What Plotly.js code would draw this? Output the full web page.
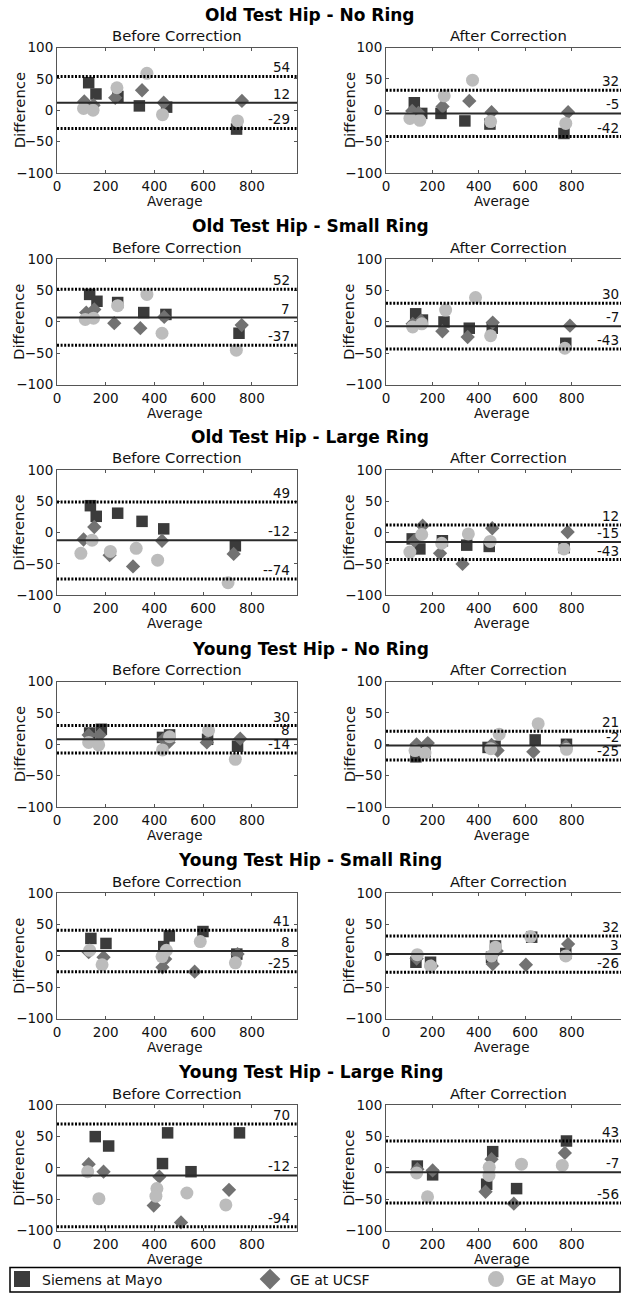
<!DOCTYPE html>
<html><head><meta charset="utf-8">
<script src="https://cdn.plot.ly/plotly-3.0.1.min.js"></script>
<style>body{margin:0;padding:0;background:#fff}#chart{width:621px;height:1296px}</style>
</head><body><div id="chart"></div>
<script>
const panelTitles = ['Old Test Hip - No Ring','Old Test Hip - Small Ring','Old Test Hip - Large Ring',
  'Young Test Hip - No Ring','Young Test Hip - Small Ring','Young Test Hip - Large Ring'];
const subTitles = ['Before Correction','After Correction'];
const seriesNames = ['Siemens at Mayo','GE at UCSF','GE at Mayo'];
const xTicks = [0,200,400,600,800];
const yTicks = [-100,-50,0,50,100];

// panels in order: Old-No Before, Old-No After, Old-Small Before, Old-Small After, ...
const siemensAvg = [
  [130,160,250,338,450,737],[122,154,237,340,448,767],
  [134,164,249,356,447,747],[128,157,250,359,458,775],
  [137,161,249,349,438,732],[113,146,243,348,445,768],
  [134,182,433,462,618,741],[129,168,440,470,643,778],
  [139,201,438,461,599,738],[129,192,455,472,628,775],
  [157,212,433,454,550,749],[135,201,434,460,563,778]];
const siemensDiff = [
  [44,26,22,7,5,-30],[12,-5,-5,-17,-22,-37],
  [44,33,31,15,12,-18],[13,3,0,-10,-10,-34],
  [43,26,31,18,6,-21],[-10,-26,-13,-20,-22,-24],
  [18,24,11,15,8,-3],[-20,-12,-5,-3,7,0],
  [28,20,15,32,39,3],[-10,-10,-2,16,30,4],
  [50,35,7,56,-6,56],[3,-11,-26,26,-33,43]];
const ucsfAvg = [
  [112,150,239,349,438,759],[113,140,244,359,455,785],
  [120,153,235,342,440,758],[115,151,243,352,460,793],
  [109,153,216,312,431,725],[122,158,233,330,458,783],
  [130,175,437,458,615,752],[132,180,455,481,635,775],
  [130,191,433,444,565,741],[132,197,460,477,603,785],
  [130,191,397,420,509,706],[135,201,429,455,551,771]];
const ucsfDiff = [
  [14,8,20,32,12,15],[-1,-4,6,15,-3,-3],
  [15,20,-2,-10,8,-5],[-3,2,-15,-24,-1,-6],
  [-11,9,-36,-54,-13,-34],[-13,11,-33,-50,7,1],
  [15,15,8,3,3,9],[0,2,-1,-10,-12,-3],
  [6,-2,-18,-5,-25,3],[-4,-16,-13,8,-14,19],
  [6,-6,-60,-14,-87,-35],[-2,-4,-38,14,-57,24]];
const geMayoAvg = [
  [109,148,246,369,433,741],[103,146,251,373,451,775],
  [116,150,249,369,431,736],[115,154,257,386,451,771],
  [98,144,219,325,413,702],[103,154,240,355,449,767],
  [130,171,433,462,622,732],[125,168,452,488,656,778],
  [134,185,431,449,588,732],[135,192,455,472,623,775],
  [126,172,410,406,533,693],[132,179,444,445,584,760]];
const geMayoDiff = [
  [3,0,36,59,-7,-17],[-13,-16,23,48,-18,-21],
  [4,6,26,44,-18,-45],[-8,-3,19,39,-22,-42],
  [-33,-12,-30,-25,-44,-80],[-31,-3,-17,-2,-14,-26],
  [3,-1,-9,12,22,-24],[-10,-14,-7,16,33,-8],
  [9,-14,-1,9,23,-11],[2,-16,0,14,31,0],
  [-6,-49,-33,-45,-40,-59],[-8,-46,-12,1,6,4]];
const meanDiff = [12,-5,7,-7,-12,-15,8,-2,8,3,-12,-7];
const upperLimit = [54,32,52,30,49,12,30,21,41,32,70,43];
const lowerLimit = [-29,-42,-37,-43,-74,-43,-14,-25,-25,-26,-94,-56];
const upperLabels = ['54','32','52','30','49','12','30','21','41','32','70','43'];
const meanLabels = ['12','-5','7','-7','-12','-15','8','-2','8','3','-12','-7'];
const lowerLabels = ['-29','-42','-37','-43','--74','-43','-14','-25','-25','-26','-94','-56'];

const W = 621, H = 1296;
const FONT = 'DejaVu Sans, sans-serif';
const rowTop = [47.7, 259.7, 470.7, 682.7, 894.7, 1107];
const plotH = 125.5;
const colX = [[57, 297], [386, 621]];
const xRanges = [[0, 985], [0, 1013]];
const colors = ['#3b3b3b', '#727272', '#bcbcbc'];
const symbols = ['square', 'diamond', 'circle'];
const sizes = [11.5, 11, 13];
const xs = [siemensAvg, ucsfAvg, geMayoAvg];
const ys = [siemensDiff, ucsfDiff, geMayoDiff];

const py = p => 1 - p / H;
const data = [];
const layout = {
  width: W, height: H, margin: {l: 0, r: 0, t: 0, b: 0},
  paper_bgcolor: '#fff', plot_bgcolor: '#fff',
  font: {family: FONT, color: '#111'},
  shapes: [], annotations: []
};

for (let i = 0; i < 12; i++) {
  const row = Math.floor(i / 2), col = i % 2;
  const s = i === 0 ? '' : String(i + 1);
  const top = rowTop[row], bot = top + plotH;
  layout['xaxis' + s] = {
    domain: [colX[col][0] / W, colX[col][1] / W], range: xRanges[col], anchor: 'y' + s,
    tickvals: xTicks, ticks: 'inside', ticklen: 3, tickcolor: '#555', ticklabelstandoff: 1,
    showline: true, linecolor: '#555', linewidth: 1, mirror: 'ticks',
    showgrid: false, zeroline: false, tickfont: {size: 13.5, color: '#111', family: FONT}
  };
  layout['yaxis' + s] = {
    domain: [py(bot), py(top)], range: [-100, 100], anchor: 'x' + s,
    tickvals: yTicks, ticks: 'inside', ticklen: 3, tickcolor: '#555',
    showline: true, linecolor: '#555', linewidth: 1, mirror: col === 0 ? 'ticks' : false,
    showgrid: false, zeroline: false, tickfont: {size: 13.5, color: '#111', family: FONT}
  };
  for (let k = 0; k < 3; k++) {
    data.push({
      type: 'scatter', mode: 'markers', x: xs[k][i], y: ys[k][i],
      xaxis: 'x' + s, yaxis: 'y' + s, showlegend: false, hoverinfo: 'skip', cliponaxis: false,
      marker: {symbol: symbols[k], size: sizes[k], color: colors[k], line: {width: 0}}
    });
  }
  const xr = 'x' + s + ' domain', yr = 'y' + s;
  layout.shapes.push({type: 'line', xref: xr, yref: yr, x0: 0, x1: 1, y0: meanDiff[i], y1: meanDiff[i],
    line: {color: '#2a2a2a', width: 2}});
  [upperLimit[i], lowerLimit[i]].forEach(v => layout.shapes.push({type: 'line', xref: xr, yref: yr,
    x0: 0, x1: 1, y0: v, y1: v, line: {color: '#000', width: 3, dash: '2px,1.6px'}}));
  const lx = col === 0 ? 292 / W : 1.0;
  [[upperLimit[i], upperLabels[i]], [meanDiff[i], meanLabels[i]], [lowerLimit[i], lowerLabels[i]]].forEach(([v, t]) => {
    layout.annotations.push({xref: 'paper', yref: yr, x: lx, y: v, text: t, showarrow: false,
      xanchor: 'right', yanchor: 'bottom', yshift: -1, font: {size: 13.5, color: '#111', family: FONT}});
  });
  // subtitle
  const cx = col === 0 ? 177 : 508;
  layout.annotations.push({xref: 'paper', yref: 'paper', x: cx / W, y: py(top - 12), text: subTitles[col],
    showarrow: false, xanchor: 'center', yanchor: 'middle', font: {size: 14.8, color: '#111', family: FONT}});
  // axis titles
  const axl = col === 0 ? 19 : 349;
  layout.annotations.push({xref: 'paper', yref: 'paper', x: axl / W, y: py(top + plotH / 2), text: 'Difference',
    textangle: -90, showarrow: false, xanchor: 'center', yanchor: 'middle', font: {size: 14.8, color: '#111', family: FONT}});
  const axc = col === 0 ? 175 : 501;
  layout.annotations.push({xref: 'paper', yref: 'paper', x: axc / W, y: py(bot + 28), text: 'Average',
    showarrow: false, xanchor: 'center', yanchor: 'middle', font: {size: 13.5, color: '#111', family: FONT}});
}
panelTitles.forEach((t, r) => {
  layout.annotations.push({xref: 'paper', yref: 'paper', x: 310 / W, y: py(rowTop[r] - 33), text: '<b>' + t + '</b>',
    showarrow: false, xanchor: 'center', yanchor: 'middle', font: {size: 17, color: '#000', family: FONT}});
});

// legend
const legendIds = ['legend', 'legend2', 'legend3'];
const legendX = [2, 250, 476];
for (let k = 0; k < 3; k++) {
  data.push({type: 'scatter', mode: 'markers', x: [null], y: [null], name: seriesNames[k],
    legend: legendIds[k], showlegend: true, hoverinfo: 'skip',
    marker: {symbol: symbols[k], size: 16, color: colors[k], line: {width: 0}}});
  layout[legendIds[k]] = {x: legendX[k] / W, xanchor: 'left', y: py(1281.5), yanchor: 'middle',
    orientation: 'h', bgcolor: 'rgba(0,0,0,0)', borderwidth: 0,
    font: {size: 14, color: '#111', family: FONT}};
}
layout.shapes.push({type: 'rect', xref: 'paper', yref: 'paper', x0: 10 / W, x1: 620 / W,
  y0: py(1294), y1: py(1269.5), line: {color: '#000', width: 1.5}});

Plotly.newPlot('chart', data, layout, {staticPlot: true, displayModeBar: false});
</script></body></html>
